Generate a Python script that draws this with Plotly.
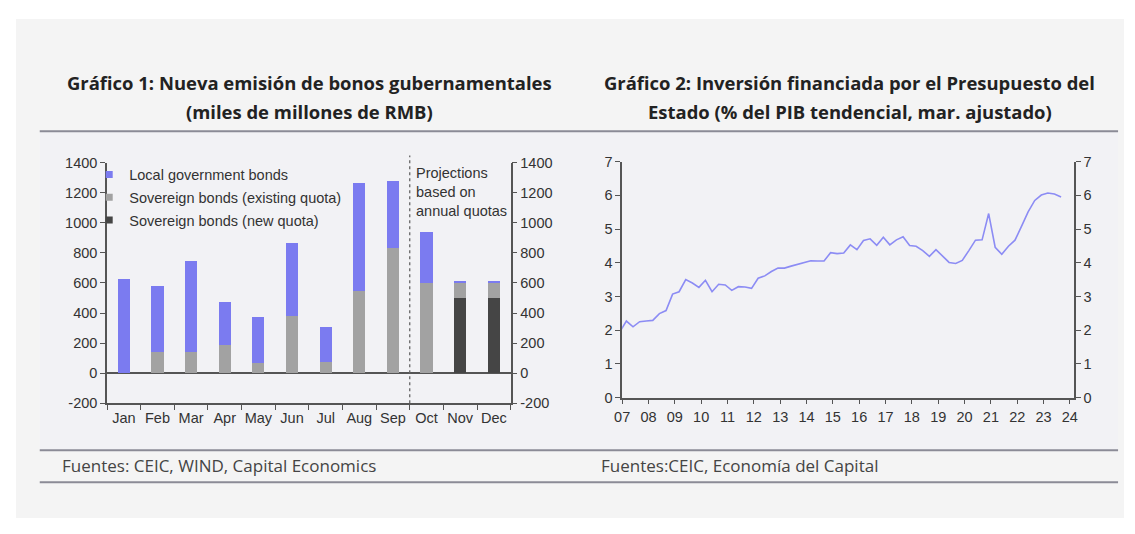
import plotly.graph_objects as go

# The page keeps the browser's default 8px body margin, so the figure is sized to fill
# exactly 1135x534 together with that margin; coordinates below are in page pixels.
PAGE_W, PAGE_H, M = 1135, 534, 8
W, H = PAGE_W - 2 * M, PAGE_H - 2 * M

# ---------------- Data: chart 1 ----------------
months = ["Jan", "Feb", "Mar", "Apr", "May", "Jun", "Jul", "Aug", "Sep", "Oct", "Nov", "Dec"]
local_bonds = [625, 440, 605, 286, 301, 481, 234, 717, 445, 341, 19, 19]
sov_existing = [0, 140, 140, 187, 71, 382, 73, 550, 835, 597, 97, 97]
sov_new = [0, 0, 0, 0, 0, 0, 0, 0, 0, 0, 500, 500]
y1_ticks = [-200, 0, 200, 400, 600, 800, 1000, 1200, 1400]
y1_ticktext = [str(v) for v in y1_ticks]

# ---------------- Data: chart 2 (quarterly) ----------------
quarters = ["2006-12-01"] + [f"{y}-{m:02d}-01" for y in range(2007, 2024) for m in (3, 6, 9, 12)][:67]
invest = [1.95,
          2.27, 2.10, 2.25, 2.27, 2.29, 2.49, 2.58, 3.07, 3.14, 3.50,
          3.40, 3.27, 3.48, 3.14, 3.36, 3.34, 3.18, 3.29, 3.28, 3.24,
          3.54, 3.61, 3.74, 3.84, 3.84, 3.90, 3.95, 4.01, 4.06, 4.05,
          4.05, 4.30, 4.27, 4.29, 4.53, 4.39, 4.66, 4.71, 4.52, 4.76,
          4.53, 4.68, 4.77, 4.51, 4.49, 4.36, 4.19, 4.39, 4.19, 4.01,
          3.98, 4.07, 4.36, 4.67, 4.68, 5.46, 4.46, 4.25, 4.49, 4.67,
          5.08, 5.51, 5.85, 6.01, 6.07, 6.04, 5.95]
y2_ticks = [0, 1, 2, 3, 4, 5, 6, 7]

C_LOCAL = "#7b7bf0"
C_EXIST = "#a2a2a2"
C_NEW = "#454545"
C_LINE = "#8c8cf4"
AX = "#555555"
TXT = "#333333"
ARIAL = "Liberation Sans, Arial"
TICKFONT = dict(family=ARIAL, size=14.5, color=TXT)


def px(x):
    return (x - M) / W


def py(y):
    return 1 - (y - M) / H


fig = go.Figure()

# stacked bars (bottom to top)
for name, vals, col in [("Sovereign bonds (new quota)", sov_new, C_NEW),
                        ("Sovereign bonds (existing quota)", sov_existing, C_EXIST),
                        ("Local government bonds", local_bonds, C_LOCAL)]:
    fig.add_trace(go.Bar(x=months, y=vals, marker=dict(color=col, line=dict(width=0)),
                         width=0.36, name=name, showlegend=False, xaxis="x", yaxis="y"))

# legend entries (small square symbols)
for i, (name, col) in enumerate([("Local government bonds", C_LOCAL),
                                 ("Sovereign bonds (existing quota)", C_EXIST),
                                 ("Sovereign bonds (new quota)", C_NEW)]):
    fig.add_trace(go.Scatter(x=[None], y=[None], mode="markers", name=name,
                             marker=dict(symbol="square", size=7, color=col),
                             legendgroup=f"g{i}", xaxis="x", yaxis="y"))

# right axis companion for chart 1
fig.add_trace(go.Scatter(x=months, y=local_bonds, mode="lines", opacity=0, showlegend=False,
                         hoverinfo="skip", xaxis="x", yaxis="y2"))

# chart 2 line
fig.add_trace(go.Scatter(x=quarters, y=invest, mode="lines", line=dict(color=C_LINE, width=1.6),
                         showlegend=False, xaxis="x2", yaxis="y3"))
fig.add_trace(go.Scatter(x=quarters, y=invest, mode="lines", opacity=0, showlegend=False,
                         hoverinfo="skip", xaxis="x2", yaxis="y4"))

ax_common = dict(showline=True, linecolor=AX, linewidth=1.5, ticks="outside", ticklen=5,
                 tickcolor=AX, tickwidth=1.2, showgrid=False, zeroline=False, tickfont=TICKFONT)

fig.update_layout(
    width=W, height=H,
    margin=dict(l=0, r=0, t=0, b=0),
    paper_bgcolor="white",
    plot_bgcolor="rgba(0,0,0,0)",
    barmode="stack",
    xaxis=dict(domain=[px(100), px(508)], anchor="y", tickson="boundaries", tickangle=0, **ax_common),
    yaxis=dict(domain=[py(407.7), py(159.3)], anchor="x", range=[-200, 1400], tickvals=y1_ticks,
               ticktext=y1_ticktext,
               **{**ax_common, "zeroline": True}, zerolinecolor=AX, zerolinewidth=1.5),
    yaxis2=dict(domain=[py(407.7), py(159.3)], anchor="x", overlaying="y", side="right",
                range=[-200, 1400], tickvals=y1_ticks, ticktext=y1_ticktext, **ax_common),
    xaxis2=dict(domain=[px(620.7), px(1077.3)], anchor="y3", type="date",
                range=["2007-01-01", "2024-02-25"], dtick="M12", tick0="2007-01-01",
                tickformat="%y", tickangle=0, **ax_common),
    yaxis3=dict(domain=[py(401.7), py(158.3)], anchor="x2", range=[0, 7], tickvals=y2_ticks, **ax_common),
    yaxis4=dict(domain=[py(401.7), py(158.3)], anchor="x2", overlaying="y3", side="right",
                range=[0, 7], tickvals=y2_ticks, **ax_common),
    legend=dict(x=px(82), y=py(155), xanchor="left", yanchor="top", bgcolor="rgba(0,0,0,0)",
                font=dict(family=ARIAL, size=14.5, color=TXT),
                tracegroupgap=1, itemwidth=30, traceorder="grouped"),
    showlegend=True,
)

shapes = [
    # outer panel
    dict(type="rect", xref="paper", yref="paper", x0=px(8), x1=px(1128), y0=0, y1=py(11),
         fillcolor="#f4f4f4", line=dict(width=0), layer="below"),
    dict(type="rect", xref="paper", yref="paper", x0=px(32), x1=px(1122), y0=py(456), y1=py(127),
         fillcolor="#f2f2f5", line=dict(width=0), layer="below"),
    # separator lines
    dict(type="line", xref="paper", yref="paper", x0=px(32), x1=px(1122), y0=py(127), y1=py(127),
         line=dict(color="#8b8b96", width=2)),
    dict(type="line", xref="paper", yref="paper", x0=px(32), x1=px(1122), y0=py(456), y1=py(456),
         line=dict(color="#8b8b96", width=2)),
    dict(type="line", xref="paper", yref="paper", x0=px(32), x1=px(1122), y0=py(489), y1=py(489),
         line=dict(color="#8b8b96", width=2)),
    # projection divider (between Sep and Oct)
    dict(type="line", xref="x", yref="paper", x0=8.5, x1=8.5, y0=py(407.7), y1=py(152),
         line=dict(color="#666666", width=1.3, dash="dot")),
]
fig.update_layout(shapes=shapes)

TITLE_FONT = dict(family="Open Sans", size=18.45, color="#222222")
FOOT_FONT = dict(family="Open Sans", size=17, color="#444444")
annotations = [
    dict(text="<b>Gráfico 1: Nueva emisión de bonos gubernamentales</b>", x=px(305), y=py(77)),
    dict(text="<b>(miles de millones de RMB)</b>", x=px(305), y=py(107)),
    dict(text="<b>Gráfico 2: Inversión financiada por el Presupuesto del</b>", x=px(851), y=py(77)),
    dict(text="<b>Estado (% del PIB tendencial, mar. ajustado)</b>", x=px(851), y=py(107)),
]
for a in annotations:
    fig.add_annotation(xref="paper", yref="paper", showarrow=False, xanchor="center", yanchor="middle",
                       font=TITLE_FONT, **a)
fig.add_annotation(text="Fuentes: CEIC, WIND, Capital Economics", x=px(52), y=py(472), xref="paper",
                   yref="paper", showarrow=False, xanchor="left", yanchor="middle", font=FOOT_FONT)
fig.add_annotation(text="Fuentes:CEIC, Economía del Capital", x=px(597), y=py(472), xref="paper",
                   yref="paper", showarrow=False, xanchor="left", yanchor="middle", font=FOOT_FONT)
fig.add_annotation(text="Projections<br>based on<br>annual quotas", x=px(410), y=py(160), xref="paper",
                   yref="paper", showarrow=False, xanchor="left", yanchor="top", align="left",
                   font=dict(family=ARIAL, size=14.5, color=TXT))

fig.write_html("out.html", config={"displayModeBar": False})
